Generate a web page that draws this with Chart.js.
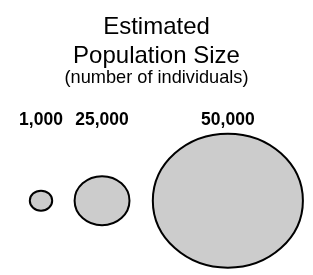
<!DOCTYPE html>
<html>
<head>
<meta charset="utf-8">
<script src="https://cdn.jsdelivr.net/npm/chart.js@4/dist/chart.umd.min.js"></script>
<style>
  html, body { margin: 0; padding: 0; background: #ffffff; }
  #wrap { width: 313px; height: 275px; position: relative; }
</style>
</head>
<body>
<div id="wrap"><canvas id="c"></canvas></div>
<script>
// ---- data ----
const populationValues = [1000, 25000, 50000];
const bubbleX = [1.31, 3.26, 7.28];
const bubbleY = [0.5, 0.5, 0.5];
const bubbleR = [10, 24.5, 67];

const titleLines = ['Estimated', 'Population Size'];
const subtitleText = '(number of individuals)';

// ---- styles ----
const FONT = "'Liberation Sans', Arial, Helvetica, sans-serif";
const ASPECT = 1.12; // horizontal stretch of each bubble

const points = bubbleX.map((x, i) => ({ x: x, y: bubbleY[i], r: bubbleR[i] }));

const ellipsePlugin = {
  id: 'ellipseBubbles',
  beforeDatasetDraw(chart, args) {
    const ctx = chart.ctx;
    const meta = args.meta;
    meta.data.forEach(el => {
      const o = el.options;
      const r = o.radius;
      ctx.save();
      ctx.beginPath();
      ctx.ellipse(el.x, el.y, r * ASPECT, r, 0, 0, Math.PI * 2);
      ctx.fillStyle = o.backgroundColor;
      ctx.fill();
      ctx.lineWidth = o.borderWidth;
      ctx.strokeStyle = o.borderColor;
      ctx.stroke();
      ctx.restore();
    });
    return false;
  }
};

new Chart(document.getElementById('c'), {
  type: 'bubble',
  data: {
    datasets: [{
      data: points,
      backgroundColor: '#cccccc',
      borderColor: '#000000',
      borderWidth: 2,
      hoverRadius: 0
    }]
  },
  options: {
    responsive: true,
    maintainAspectRatio: false,
    animation: false,
    devicePixelRatio: 1,
    events: [],
    layout: { padding: 0, autoPadding: false },
    plugins: {
      legend: { display: false },
      tooltip: { enabled: false },
      title: {
        display: true,
        text: titleLines,
        color: '#000000',
        font: { family: FONT, size: 24, weight: 'normal', lineHeight: 1.21 },
        padding: { top: 13, bottom: 0 }
      },
      subtitle: {
        display: true,
        text: subtitleText,
        color: '#000000',
        font: { family: FONT, size: 18.2, weight: 'normal', lineHeight: 0.8 },
        padding: { top: 0, bottom: 24 }
      }
    },
    scales: {
      x: {
        type: 'linear',
        position: 'top',
        min: 0,
        max: 10,
        grid: { display: false },
        border: { display: false },
        afterBuildTicks(scale) {
          scale.ticks = bubbleX.map(v => ({ value: v }));
        },
        ticks: {
          color: '#000000',
          font: { family: FONT, size: 17.5, weight: 'bold' },
          padding: 0,
          maxRotation: 0,
          autoSkip: false,
          callback(value, index) {
            return populationValues[index].toLocaleString('en-US');
          }
        }
      },
      y: {
        display: false,
        min: -0.045,
        max: 0.955
      }
    }
  },
  plugins: [ellipsePlugin]
});
</script>
</body>
</html>
